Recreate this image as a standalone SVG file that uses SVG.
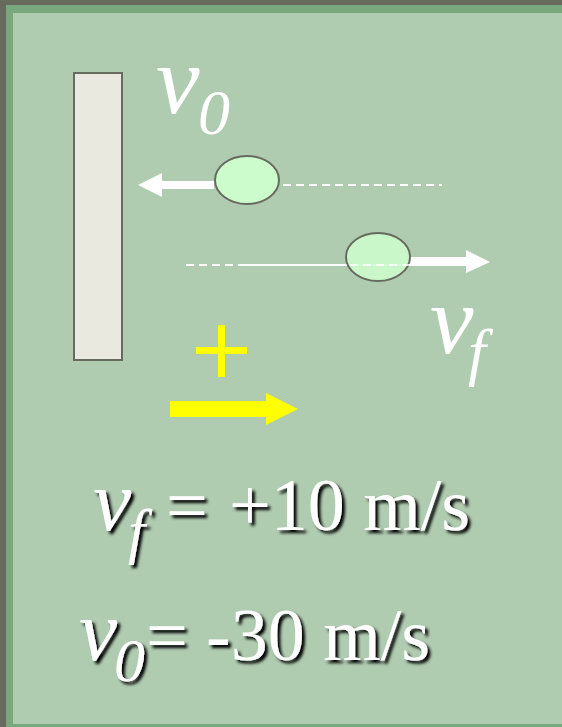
<svg xmlns="http://www.w3.org/2000/svg" width="562" height="727" viewBox="0 0 562 727">
<style>
.lbl{font-family:"Liberation Serif",serif;fill:#ffffff;}
.it{font-style:italic;}
.ball{fill:#ccfccc;stroke:#676b5e;stroke-width:2;}
.dash{stroke:#ffffff;stroke-width:2;stroke-dasharray:8 5;fill:none;}
</style>
<defs>
<filter id="sh" x="-10%" y="-10%" width="130%" height="140%">
<feGaussianBlur in="SourceAlpha" stdDeviation="1.5"/>
<feOffset dx="3" dy="3" result="b"/>
<feMerge><feMergeNode in="b"/><feMergeNode in="SourceGraphic"/></feMerge>
</filter>
</defs>
<rect x="0" y="0" width="562" height="727" fill="#676b5e"/>
<rect x="6" y="5" width="556" height="722" fill="#78a87c"/>
<rect x="13" y="13" width="549" height="711" fill="#afcbb0"/>
<g id="wall"><rect x="74" y="73" width="48" height="287" fill="#e9e9df" stroke="#676b5e" stroke-width="2"/></g>
<g id="connectors">
<line class="dash" x1="283" y1="185" x2="442" y2="185"/>
<line class="dash" x1="186" y1="265" x2="410" y2="265"/>
<line x1="242" y1="265" x2="350" y2="265" stroke="#fff" stroke-width="2"/>
<polygon points="214,181 162,181 162,173 138,185 162,197 162,189 214,189" fill="#fff"/>
<polygon points="408,257 466,257 466,250 490,262 466,273 466,266 408,266" fill="#fff"/>
<polygon points="170,401 266,401 266,393 298,409 266,425 266,417 170,417" fill="#ffff00"/>
</g>
<g id="ball1"><ellipse class="ball" cx="247" cy="180" rx="32" ry="24"/></g>
<g id="ball2"><ellipse class="ball" cx="378" cy="257" rx="32" ry="24" fill-opacity="0.9"/>
<line x1="350" y1="265" x2="410" y2="265" stroke="#fff" stroke-width="2" stroke-dasharray="8 5" opacity="0.8"/></g>
<g id="plus"><rect x="196" y="347" width="51" height="7" fill="#ffff00"/><rect x="218" y="325" width="7" height="52" fill="#ffff00"/></g>
<g id="v0label"><text class="lbl it" x="156" y="113" font-size="98">v</text><text class="lbl it" x="198" y="134" font-size="64">0</text></g>
<g id="vflabel"><text class="lbl it" x="430" y="353" font-size="98">v</text><text class="lbl it" x="468" y="373" font-size="64">f</text></g>
<g id="eq1" filter="url(#sh)"><text class="lbl it" x="93" y="530" font-size="86">v</text><text class="lbl it" x="128" y="552" font-size="62">f</text><text class="lbl" x="166" y="530" font-size="74">=</text><text class="lbl" x="229" y="530" font-size="74">+10 m/s</text></g>
<g id="eq2" filter="url(#sh)"><text class="lbl it" x="79" y="660" font-size="86">v</text><text class="lbl it" x="114" y="681" font-size="62">0</text><text class="lbl" x="146" y="660" font-size="74">=</text><text class="lbl" x="206" y="660" font-size="74">-30 m/s</text></g>
</svg>
